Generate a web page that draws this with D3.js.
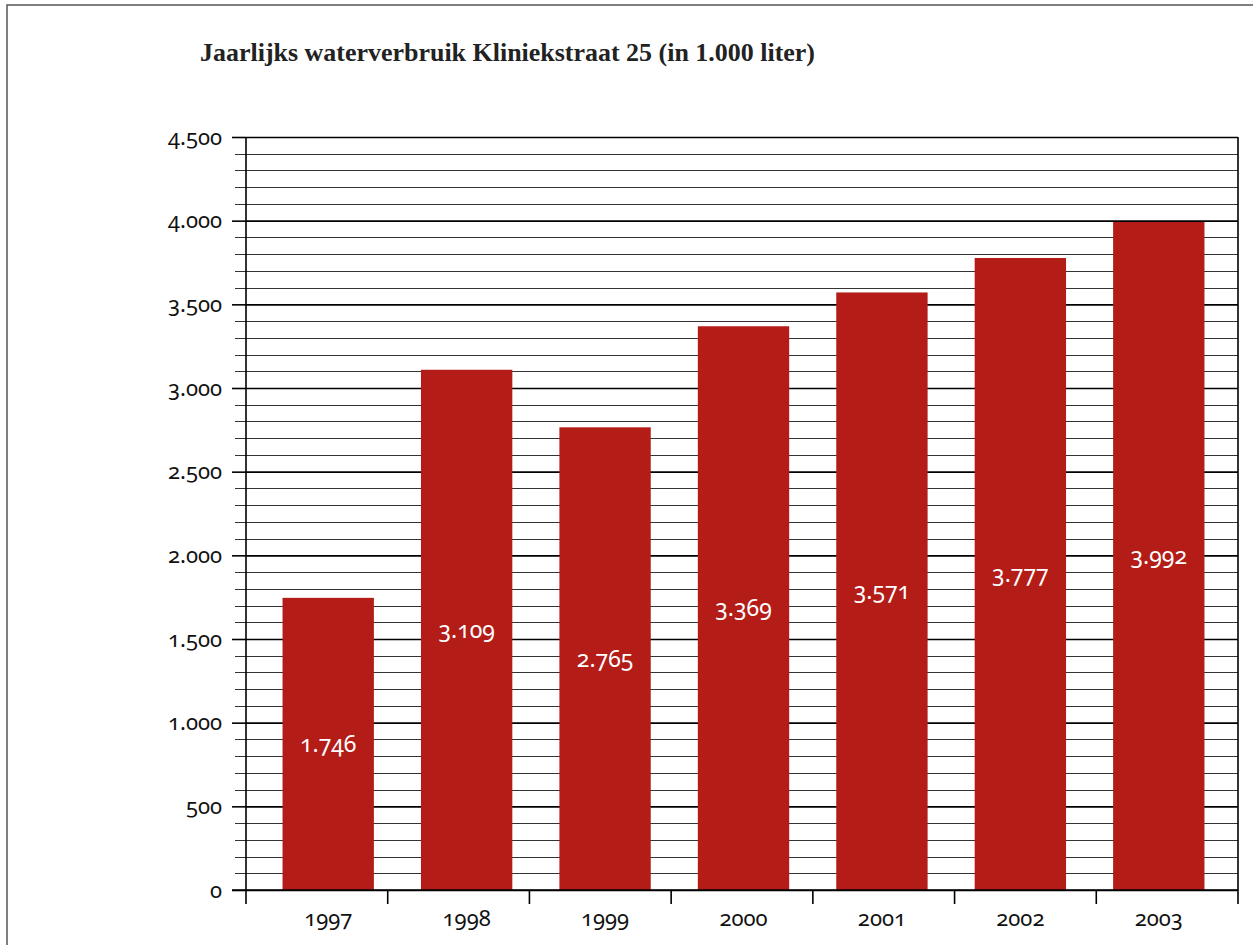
<!DOCTYPE html>
<html>
<head>
<meta charset="utf-8">
<script src="https://cdn.jsdelivr.net/npm/d3@7"></script>
<style>
  html, body { margin: 0; padding: 0; background: #fff; }
  svg { display: block; }
</style>
</head>
<body>
<div id="chart"></div>
<script>
const years = ['1997', '1998', '1999', '2000', '2001', '2002', '2003'];
const usage = [1746, 3109, 2765, 3369, 3571, 3777, 3992];
const majorTicks = [0, 500, 1000, 1500, 2000, 2500, 3000, 3500, 4000, 4500];
const title = 'Jaarlijks waterverbruik Kliniekstraat 25 (in 1.000 liter)';

const width = 1253, height = 945;
const fmt = v => d3.format(',')(v).replace(/,/g, '.');

const svg = d3.select('#chart').append('svg')
    .attr('width', width)
    .attr('height', height);

// outer frame
svg.append('path')
    .attr('d', `M7,${height}V5H${width}`)
    .attr('fill', 'none')
    .attr('stroke', '#555')
    .attr('stroke-width', 1.5);

svg.append('text')
    .attr('x', 200)
    .attr('y', 61)
    .attr('textLength', 615)
    .attr('lengthAdjust', 'spacingAndGlyphs')
    .style('font-family', '"Liberation Serif", serif')
    .style('font-weight', 'bold')
    .style('font-size', '25px')
    .style('fill', '#222')
    .text(title);

const x0 = 246, x1 = 1238, yTop = 137, yBottom = 890;

const y = d3.scaleLinear().domain([0, 4500]).range([yBottom, yTop]);
const xTicks = d3.scaleBand().domain(years).range([x0, x1]);
const x = d3.scaleBand().domain(years).range([259, 1228]).paddingInner(0.34).paddingOuter(0.17);

const numFont = '"Noto Sans", sans-serif';

// minor gridlines
const minor = d3.range(0, 4501, 100).filter(v => v % 500 !== 0);
svg.append('g')
    .selectAll('line')
    .data(minor)
    .join('line')
    .attr('x1', x0 - 11)
    .attr('x2', x1)
    .attr('y1', d => Math.round(y(d)) + 0.5)
    .attr('y2', d => Math.round(y(d)) + 0.5)
    .attr('stroke', '#333')
    .attr('stroke-width', 1);

// major gridlines + labels via axis
const yAxis = svg.append('g')
    .attr('transform', `translate(${x0},0)`)
    .call(d3.axisLeft(y).tickValues(majorTicks).tickSize(14).tickFormat(fmt));
yAxis.select('.domain').remove();
yAxis.selectAll('.tick line')
    .attr('x2', -14)
    .attr('stroke', '#000')
    .attr('stroke-width', 1.6);
yAxis.selectAll('.tick')
    .append('line')
    .attr('x1', 0)
    .attr('x2', x1 - x0)
    .attr('stroke', '#000')
    .attr('stroke-width', 1.6);
yAxis.selectAll('.tick text')
    .attr('x', -24)
    .attr('dy', '0.32em')
    .style('font-family', numFont)
    .style('font-variant-numeric', 'oldstyle-nums')
    .style('font-size', '22px')
    .style('fill', '#111');

// bars
svg.append('g')
    .selectAll('rect')
    .data(usage)
    .join('rect')
    .attr('x', (d, i) => x(years[i]))
    .attr('width', x.bandwidth())
    .attr('y', d => y(d))
    .attr('height', d => y(0) - y(d))
    .attr('fill', '#b31c17');

svg.append('g')
    .selectAll('text')
    .data(usage)
    .join('text')
    .attr('x', (d, i) => x(years[i]) + x.bandwidth() / 2)
    .attr('y', d => (y(d) + y(0)) / 2)
    .attr('dy', '0.35em')
    .attr('text-anchor', 'middle')
    .style('font-family', numFont)
    .style('font-variant-numeric', 'oldstyle-nums')
    .style('font-size', '23px')
    .style('fill', '#fff')
    .text(fmt);

// vertical axis lines and category ticks
svg.append('g')
    .selectAll('line')
    .data([x0].concat(years.map(d => xTicks(d) + xTicks.bandwidth())))
    .join('line')
    .attr('x1', d => d)
    .attr('x2', d => d)
    .attr('y1', (d, i) => (i === 0 || i === years.length) ? yTop : yBottom)
    .attr('y2', yBottom + 14)
    .attr('stroke', '#000')
    .attr('stroke-width', 1.6);

// bottom axis line
svg.append('line')
    .attr('x1', x0 - 14)
    .attr('x2', x1)
    .attr('y1', yBottom)
    .attr('y2', yBottom)
    .attr('stroke', '#000')
    .attr('stroke-width', 1.6);

svg.append('g')
    .selectAll('text')
    .data(years)
    .join('text')
    .attr('x', d => x(d) + x.bandwidth() / 2)
    .attr('y', 926)
    .attr('text-anchor', 'middle')
    .style('font-family', numFont)
    .style('font-variant-numeric', 'oldstyle-nums')
    .style('font-size', '22px')
    .style('fill', '#111')
    .text(d => d);
</script>
</body>
</html>
